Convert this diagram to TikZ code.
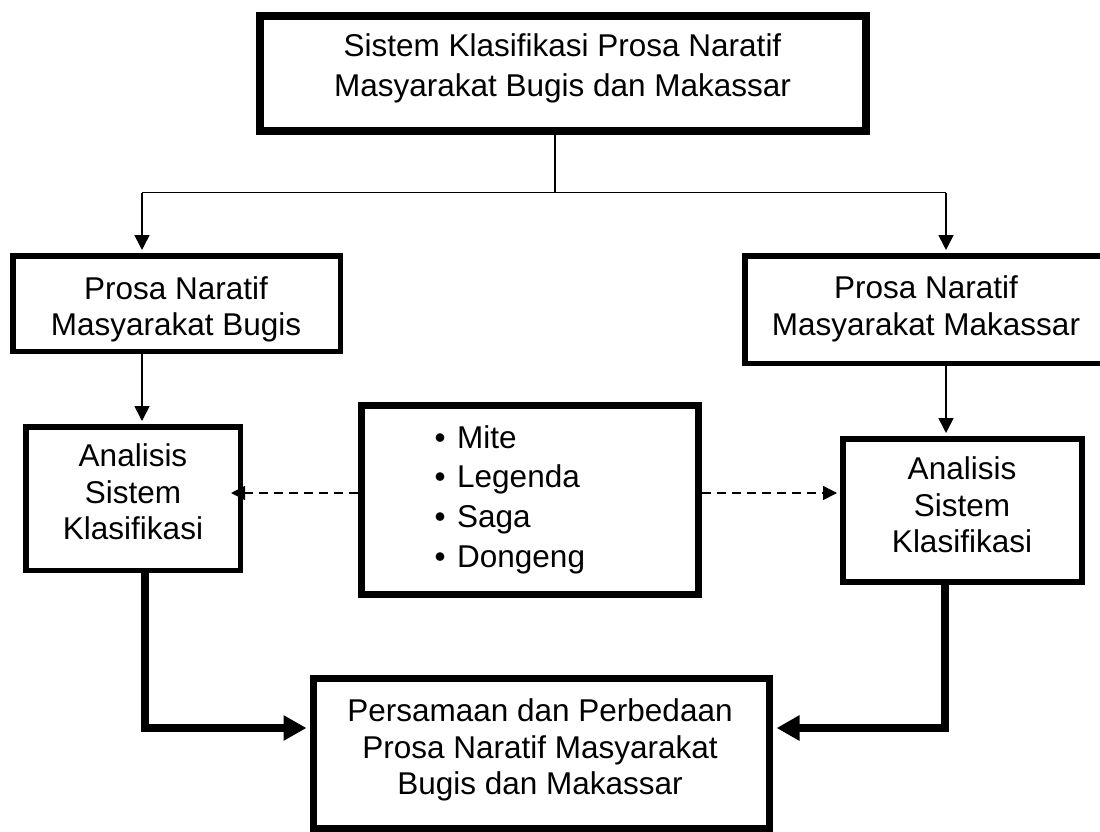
\documentclass[tikz,border=0pt]{standalone}
\usepackage{fontspec}
\setmainfont{Liberation Sans}
\usetikzlibrary{arrows.meta}
\begin{document}
\begin{tikzpicture}[x=1pt,y=-1pt,
  box/.style={draw, rectangle, inner sep=0pt},
  txt/.style={inner sep=0pt, align=center, font=\fontsize{31.5}{36.5}\selectfont},
  thinline/.style={line width=1.6pt},
  thinarrow/.style={line width=1.6pt, -{Triangle[length=15pt,width=15pt]}, shorten >=3pt},
  dasharrow/.style={line width=1.5pt, dash pattern=on 9pt off 6pt, -{Triangle[length=14pt,width=14pt]}},
  thickarrow/.style={line width=7.5pt, line join=miter, -{Triangle[length=23pt,width=24pt]}, shorten >=3.5pt}
]
\useasboundingbox[fill=white] (0,0) rectangle (1100,832);

% boxes
\node[box, line width=8pt, minimum width=606pt, minimum height=115pt] (top) at (563,73.5) {};
\node[txt, font=\fontsize{31.5}{40}\selectfont] (topt) at (562.5,68.8) {Sistem Klasifikasi Prosa Naratif\\Masyarakat Bugis dan Makassar};

\node[box, line width=5.5pt, minimum width=327.5pt, minimum height=95.5pt] (bugis) at (176.5,303.5) {};
\node[txt] (bugist) at (176,309.3) {Prosa Naratif\\Masyarakat Bugis};

\node[box, line width=5.5pt, minimum width=362pt, minimum height=107.5pt] (mks) at (926,309.5) {};
\node[txt] (mkst) at (926,308.8) {Prosa Naratif\\Masyarakat Makassar};

\node[box, line width=5.5pt, minimum width=214.5pt, minimum height=143.5pt] (anl) at (133,498.5) {};
\node[txt] (anlt) at (133,492.2) {Analisis\\Sistem\\Klasifikasi};

\node[box, line width=6pt, minimum width=239pt, minimum height=143pt] (anr) at (962.5,510.5) {};
\node[txt] (anrt) at (962,505.2) {Analisis\\Sistem\\Klasifikasi};

\node[box, line width=7pt, minimum width=337pt, minimum height=189pt] (jenis) at (530,500) {};
\node[txt, anchor=west, align=left, font=\fontsize{31.5}{39.7}\selectfont] (jenist) at (434.5,499.6)
  {\makebox[22.5pt][l]{\textbullet}Mite\\\makebox[22.5pt][l]{\textbullet}Legenda\\\makebox[22.5pt][l]{\textbullet}Saga\\\makebox[22.5pt][l]{\textbullet}Dongeng};

\node[box, line width=7pt, minimum width=456pt, minimum height=150pt] (hasil) at (541.5,753.5) {};
\node[txt] (hasilt) at (540,750.3) {Persamaan dan Perbedaan\\Prosa Naratif Masyarakat\\Bugis dan Makassar};

% connector coordinates
\coordinate (split) at (555,192.5);
\coordinate (lt) at (142,192.5);
\coordinate (rt) at (946,192.5);
\coordinate (dy) at (0,493);
\coordinate (jl) at (145,728);
\coordinate (jr) at (945,728);

% thin connectors
\draw[thinline] (top.south -| split) -- (split);
\draw[thinline] (lt) -- (rt);
\draw[thinarrow] (lt) -- (lt |- bugis.north);
\draw[thinarrow] (rt) -- (rt |- mks.north);
\draw[thinarrow] (bugis.south -| lt) -- (lt |- anl.north);
\draw[thinarrow] (mks.south -| rt) -- (rt |- anr.north);

% dashed connectors
\draw[dasharrow, shorten >=-12pt] (jenis.west |- dy) -- (anl.east |- dy);
\draw[dasharrow, shorten >=3pt] (jenis.east |- dy) -- (anr.west |- dy);

% thick connectors
\draw[thickarrow] (anl.south -| jl) -- (jl) -- (hasil.west |- jl);
\draw[thickarrow] (anr.south -| jr) -- (jr) -- (hasil.east |- jr);
\end{tikzpicture}
\end{document}
